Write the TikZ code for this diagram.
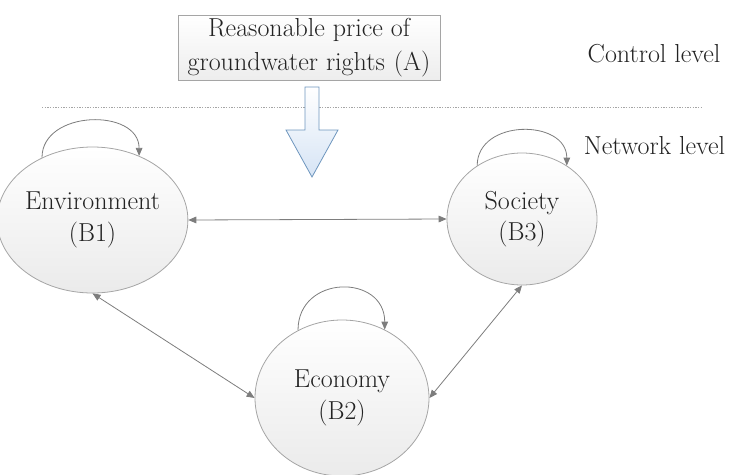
\documentclass[tikz,border=0pt]{standalone}
\usepackage{fontspec}
\usepackage{tikz}
\usetikzlibrary{shapes.geometric,arrows.meta}
\newcommand{\lp}{\hspace*{0.5em}(}
\newcommand{\rp}{)\hspace*{0.5em}}
\definecolor{txtgray}{RGB}{35,35,35}
\definecolor{rimgray}{RGB}{165,165,165}
\definecolor{linkgray}{RGB}{125,125,125}
\definecolor{arrowrim}{RGB}{110,150,190}
\definecolor{arrowfill}{RGB}{214,228,245}
\tikzset{
  sys/.style={ellipse, draw=rimgray, line width=0.6pt, top color=white, bottom color=black!8,
    inner sep=0pt, align=center, text=txtgray, font=\fontsize{19.5}{23.5}\selectfont},
  goalbox/.style={rectangle, draw=rimgray, line width=0.6pt, top color=white, bottom color=black!7,
    inner sep=0pt, align=center, text=txtgray, font=\fontsize{19.5}{25.5}\selectfont},
  lvl/.style={inner sep=0pt, text=txtgray, font=\fontsize{19.5}{23}\selectfont},
  link/.style={draw=linkgray, line width=0.6pt, {Triangle[length=6pt,width=5pt]}-{Triangle[length=6pt,width=5pt]}},
  selflink/.style={draw=linkgray, line width=0.6pt, -{Triangle[length=6pt,width=5pt]}}
}

\begin{document}
\begin{tikzpicture}[x=0.75pt,y=0.75pt,yscale=-1,xscale=1]
\useasboundingbox (0,0) rectangle (729,475);

% Control level box
\node[goalbox, minimum width=196.5pt, minimum height=48.75pt] (goal) at (309,47.5)
  {Reasonable price of\\groundwater rights\hspace*{0.35em}(A)};
% Text Node
\node[lvl] (ctrl) at (654,54) {Control level};

%Straight Lines (level divider)
\draw [rimgray, line width=0.5pt, dash pattern=on 1pt off 1pt] (42,107.5) -- (702,107.5);

%Shape: Down arrow
\draw [arrowrim, line width=0.6pt, top color=white, bottom color=arrowfill]
  (305,87) -- (319,87) -- (319,130) -- (338,130) -- (312,177) -- (286,130) -- (305,130) -- cycle;

% Text Node
\node[lvl] (net) at (654.5,146) {Network level};

% Network elements
\node[sys, minimum width=120.75pt, minimum height=109.5pt] (b1) at (92.5,220) {Environment\\\lp B1\rp};
\node[sys, minimum width=112.5pt, minimum height=99pt] (b3) at (522,219) {Society\\\lp B3\rp};
\node[sys, minimum width=130.5pt, minimum height=117pt] (b2) at (342,398) {Economy\\\lp B2\rp};

% Mutual links
\draw[link] (b1.east) -- (b3.west);
\draw[link] (b1.south) -- (b2.west);
\draw[link] (b3.south) -- (b2.east);

% Self links
\draw[selflink] (b1.129.5) .. controls +(0,-48) and +(0,-48) .. (b1.54.3);
\draw[selflink] (b3.130) .. controls +(0,-47) and +(0,-47) .. (b3.50);
\draw[selflink] (b2.123.5) .. controls +(0,-56) and +(0,-56) .. (b2.58);
\end{tikzpicture}
\end{document}
